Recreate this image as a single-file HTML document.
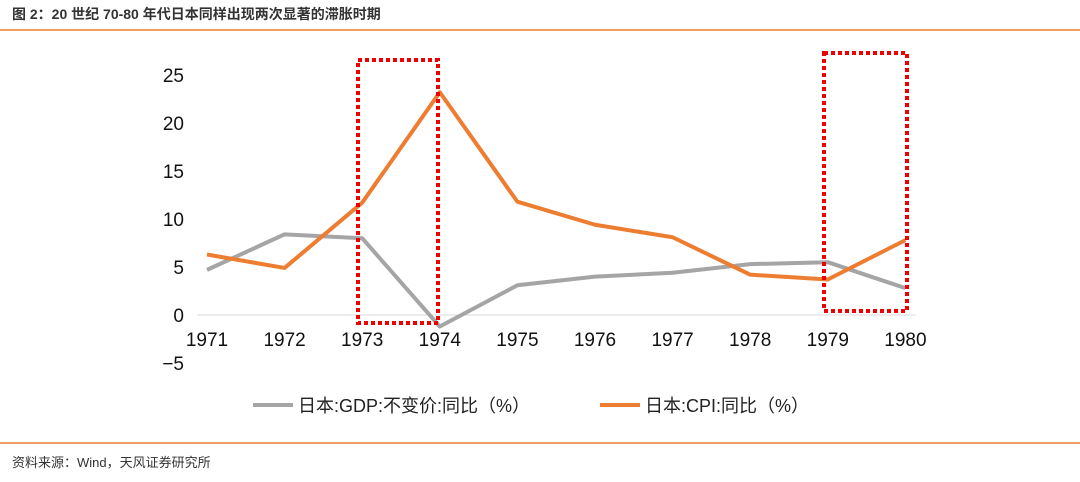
<!DOCTYPE html>
<html><head><meta charset="utf-8"><style>
body{margin:0;width:1080px;height:477px;background:#fff;overflow:hidden;font-family:"Liberation Sans","Noto Sans CJK SC",sans-serif}
</style></head><body>
<svg width="1080" height="477" xmlns="http://www.w3.org/2000/svg">
<text x="12" y="19" font-size="14" font-weight="bold" fill="#333" font-family="Liberation Sans, Noto Sans CJK SC, sans-serif">图 2：20 世纪 70-80 年代日本同样出现两次显著的滞胀时期</text>
<line x1="0" y1="30" x2="1080" y2="30" stroke="#ed7d31" stroke-width="1.5"/>
<g id="yaxis"></g>
<g id="xaxis"></g>
<g id="series"></g>
<rect x="358" y="60" width="80" height="263" fill="none" stroke="#e00" stroke-width="4" stroke-dasharray="4,3"/>
<rect x="824" y="53" width="83" height="258" fill="none" stroke="#e00" stroke-width="4" stroke-dasharray="4,3"/>
<g>
<line x1="253" y1="405" x2="293" y2="405" stroke="#a5a5a5" stroke-width="4"/>
<text x="298" y="412" font-size="18" fill="#222">日本:GDP:不变价:同比（%）</text>
<line x1="600" y1="405" x2="640" y2="405" stroke="#ed7d31" stroke-width="4"/>
<text x="645" y="412" font-size="18" fill="#222">日本:CPI:同比（%）</text>
</g>
<line x1="0" y1="443" x2="1080" y2="443" stroke="#ed7d31" stroke-width="1.5"/>
<text x="12" y="467" font-size="13" fill="#333">资料来源：Wind，天风证券研究所</text>
</svg>
<script>
const years=['1971','1972','1973','1974','1975','1976','1977','1978','1979','1980'];
const gdp=[4.7,8.4,8.0,-1.2,3.1,4.0,4.4,5.3,5.5,2.8];
const cpi=[6.3,4.9,11.7,23.2,11.8,9.4,8.1,4.2,3.7,7.8];
const yTicks=[25,20,15,10,5,0,-5];
const NS='http://www.w3.org/2000/svg';
const x=i=>207+i*77.6;
const y=v=>315-v*9.6;
function mk(t,a,p){const e=document.createElementNS(NS,t);for(const k in a)e.setAttribute(k,a[k]);p.appendChild(e);return e;}
const ya=document.getElementById('yaxis');
yTicks.forEach(v=>{const t=mk('text',{x:184,y:y(v)+7,'font-size':19,'text-anchor':'end',fill:'#111'},ya);t.textContent=v===-5?'−5':v;

});
const xa=document.getElementById('xaxis');
const ax=mk('line',{x1:x(0)-10,x2:x(9)+10,y1:y(0),y2:y(0),stroke:'#d9d9d9','stroke-width':1},xa);


years.forEach((yr,i)=>{const t=mk('text',{x:x(i),y:346,'font-size':19,'text-anchor':'middle',fill:'#111'},xa);t.textContent=yr;

});
const s=document.getElementById('series');
const pg=mk('polyline',{points:gdp.map((v,i)=>x(i)+','+y(v)).join(' '),fill:'none',stroke:'#a5a5a5','stroke-width':4,'stroke-linejoin':'round'},s);


const pc=mk('polyline',{points:cpi.map((v,i)=>x(i)+','+y(v)).join(' '),fill:'none',stroke:'#ed7d31','stroke-width':4,'stroke-linejoin':'round'},s);


</script>
</body></html>
